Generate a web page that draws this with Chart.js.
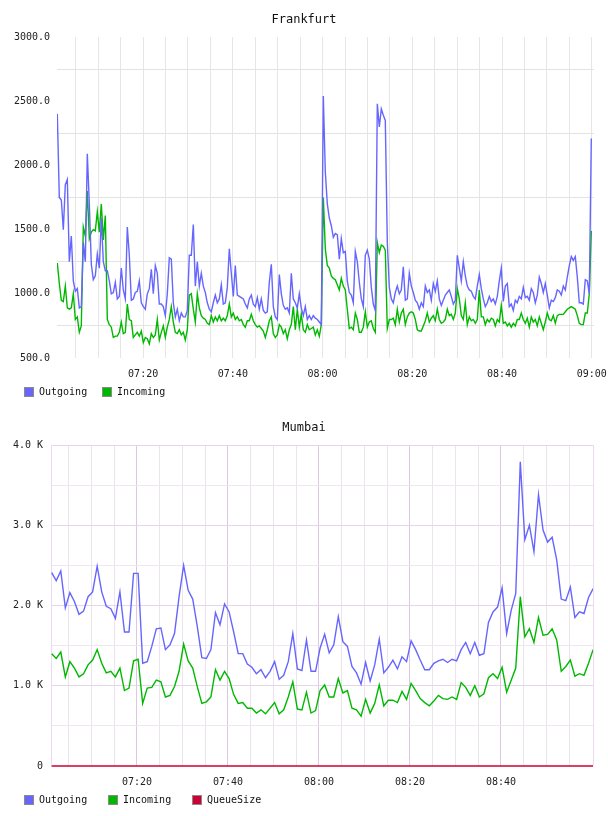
<!DOCTYPE html>
<html>
<head>
<meta charset="utf-8">
<title>Frankfurt / Mumbai</title>
<script src="https://cdn.jsdelivr.net/npm/chart.js@4.4.1/dist/chart.umd.min.js"></script>
<style>
  html, body { margin: 0; padding: 0; background: #fff; }
  .panel { width: 608px; height: 408px; position: relative; }
  canvas { display: block; }
</style>
</head>
<body>
<div class="panel"><canvas id="frankfurt" width="608" height="408"></canvas></div>
<div class="panel"><canvas id="mumbai" width="608" height="408"></canvas></div>
<script>
// --- Data (time in minutes after midnight) ---
const frankStart = 420.87;   // ~07:01
const frankStep = 0.4458;    // ~27 s between samples
const frankOut = [
  2400,1750,1730,1500,1850,1890,1250,1450,1100,1020,1040,890,900,1400,1250,2090,1700,1230,1110,1140,
  1310,1200,1590,1250,1180,1180,1100,1000,1010,1090,960,980,1200,1030,960,1520,1300,950,960,1010,
  1020,1100,930,900,880,1000,1040,1190,1000,1220,1160,920,920,900,830,1000,1280,1270,930,820,
  880,790,850,820,820,870,1300,
  1300,1540,1060,1250,1060,1160,1060,1010,930,880,860,930,990,930,960,1070,920,930,1050,1350,
  1160,980,1220,990,980,970,960,920,890,960,990,920,900,970,880,960,870,850,860,1090,
  1230,900,820,800,1150,1000,910,880,890,850,1160,960,930,890,1000,890,830,900,800,830,
  800,830,810,800,780,760,2540,
  1950,1700,1590,1530,1440,1470,1460,1270,1430,1320,1330,1100,1010,990,930,1330,1250,1090,960,900,
  1300,1340,1270,1050,920,870,2480,2300,2440,2390,2350,1400,1050,960,930,1010,1060,1000,1030,1210,
  950,960,1160,1060,1010,950,930,880,930,900,1060,1010,1030,950,1080,1020,1100,960,910,950,
  990,1010,1030,980,920,950,1300,
  1200,1100,1250,1140,1060,1030,1020,980,960,1060,1150,1040,960,900,930,980,940,960,920,980,
  1100,1200,940,1060,1080,900,920,870,950,930,980,960,1050,970,980,950,1040,1010,930,990,
  1130,1080,1010,1080,990,890,950,940,970,1030,1020,990,1060,1030,1130,1220,1290,1260,1290,1130,
  930,930,920,1110,1100,1000,2210
];
const frankIn = [
  1240,1080,950,940,1060,890,880,890,1000,800,820,700,750,1520,1450,1800,1430,1480,1500,1490,
  1640,1480,1700,1420,1610,800,760,740,660,670,670,700,780,690,700,920,800,790,660,680,
  700,670,710,620,660,650,610,690,660,680,800,640,700,750,660,740,800,900,780,700,
  690,720,680,700,640,720,990,
  1000,880,780,1000,890,830,810,800,770,760,830,780,820,790,830,790,810,790,830,920,
  820,850,800,820,790,800,760,740,790,790,840,790,760,740,750,730,710,660,720,790,
  820,690,660,680,760,740,690,720,650,720,760,900,720,880,740,840,720,700,760,720,
  730,740,680,720,670,760,1750,
  1350,1220,1200,1140,1120,1110,1070,1030,1120,1060,1030,880,730,740,720,850,800,700,700,740,
  860,740,780,790,730,700,1400,1320,1380,1370,1340,730,800,800,810,760,880,780,850,880,
  760,820,850,860,850,800,720,710,710,750,790,850,780,810,830,790,880,800,770,780,
  800,880,830,840,800,850,1040,
  960,830,800,930,760,820,790,800,770,800,1030,820,820,760,800,780,810,800,750,800,
  780,910,770,780,750,770,740,770,750,800,800,850,800,770,810,740,820,780,800,750,
  820,770,720,780,850,800,790,830,770,830,840,840,840,860,880,890,900,890,880,830,
  770,760,760,850,850,1000,1490
];

const mumbaiStart = 421.25;  // ~07:01, one sample per minute
const mumbaiStep = 1;
const mumbaiOut = [  // in K
  2.41,2.31,2.43,1.97,2.16,2.05,1.89,1.93,2.11,2.17, 2.49,2.17,1.99,1.96,1.84,2.17,1.67,1.67,2.40,2.40,
  1.28,1.30,1.49,1.71,1.72,1.45,1.51,1.65,2.11,2.50, 2.19,2.08,1.74,1.35,1.34,1.45,1.91,1.76,2.02,1.92,
  1.67,1.40,1.40,1.27,1.23,1.15,1.20,1.10,1.18,1.30, 1.08,1.13,1.30,1.65,1.21,1.19,1.57,1.18,1.18,1.47,
  1.64,1.41,1.51,1.86,1.55,1.49,1.24,1.16,1.02,1.29, 1.06,1.26,1.58,1.16,1.23,1.32,1.21,1.36,1.30,1.56,
  1.45,1.32,1.20,1.20,1.28,1.31,1.33,1.29,1.33,1.31, 1.45,1.54,1.40,1.54,1.38,1.40,1.79,1.92,1.98,2.22,
  1.65,1.94,2.15,3.79,2.82,3.00,2.67,3.38,2.94,2.79, 2.85,2.57,2.08,2.06,2.23,1.85,1.92,1.90,2.10,2.21
];
const mumbaiIn = [
  1.40,1.34,1.42,1.11,1.30,1.22,1.11,1.15,1.26,1.32, 1.45,1.28,1.16,1.18,1.11,1.22,0.94,0.97,1.31,1.33,
  0.78,0.97,0.98,1.07,1.05,0.86,0.88,0.99,1.18,1.52, 1.31,1.22,0.99,0.78,0.80,0.86,1.20,1.07,1.18,1.09,
  0.89,0.78,0.79,0.72,0.72,0.66,0.70,0.65,0.72,0.79, 0.65,0.70,0.86,1.05,0.71,0.70,0.92,0.66,0.69,0.94,
  1.01,0.86,0.86,1.09,0.91,0.94,0.72,0.70,0.62,0.83, 0.66,0.78,1.01,0.75,0.82,0.82,0.79,0.93,0.83,1.03,
  0.94,0.84,0.79,0.75,0.81,0.88,0.84,0.83,0.86,0.83, 1.04,0.98,0.88,1.00,0.86,0.90,1.10,1.15,1.09,1.23,
  0.92,1.07,1.22,2.11,1.61,1.71,1.54,1.85,1.63,1.64, 1.71,1.57,1.18,1.24,1.32,1.12,1.15,1.13,1.28,1.45
];
const mumbaiQueue = [
  0,0,0,0,0,0,0,0,0,0, 0,0,0,0,0,0,0,0,0,0, 0,0,0,0,0,0,0,0,0,0,
  0,0,0,0,0,0,0,0,0,0, 0,0,0,0,0,0,0,0,0,0, 0,0,0,0,0,0,0,0,0,0,
  0,0,0,0,0,0,0,0,0,0, 0,0,0,0,0,0,0,0,0,0, 0,0,0,0,0,0,0,0,0,0,
  0,0,0,0,0,0,0,0,0,0, 0,0,0,0,0,0,0,0,0,0, 0,0,0,0,0,0,0,0,0,0
];

// x ticks every 5 minutes, labels every 20
const frankTicks = [425,430,435,440,445,450,455,460,465,470,475,480,485,490,495,500,505,510,515,520,525,530,535,540];
const mumbaiTicks = [425,430,435,440,445,450,455,460,465,470,475,480,485,490,495,500,505,510,515,520,525,530,535];

const OUT_COLOR = '#6666ff';
const IN_COLOR = '#00b800';
const QUEUE_COLOR = '#cc0033';
const tickFont = { family: '"DejaVu Sans Mono", monospace', size: 10 };

const hhmm = m => String(Math.floor(m / 60)).padStart(2, '0') + ':' + String(Math.round(m % 60)).padStart(2, '0');
const toPoints = (vals, start, step) => vals.map((v, i) => ({ x: start + i * step, y: v }));

// keep the plot area where it is, even if an edge label sticks out a bit
const fixX = s => { s.height = 50; s.paddingLeft = 0; s.paddingRight = 0; };

// --- Title, legend and frame drawn on the canvas ---
const overlay = {
    id: 'overlay',
    afterDraw(chart, args, opts) {
        const ctx = chart.ctx;
        ctx.save();
        ctx.fillStyle = '#111';
        ctx.font = '12px "DejaVu Sans Mono", monospace';
        ctx.textAlign = 'center';
        ctx.textBaseline = 'middle';
        ctx.fillText(opts.title, 304, 20);

        if (opts.frame) {
            const a = chart.chartArea;
            ctx.strokeStyle = opts.frame;
            ctx.lineWidth = 1;
            ctx.beginPath();
            ctx.moveTo(a.right - 0.5, a.top);
            ctx.lineTo(a.right - 0.5, a.bottom);
            ctx.stroke();
        }

        ctx.font = '10px "DejaVu Sans Mono", monospace';
        ctx.textAlign = 'left';
        chart.data.datasets.forEach((ds, i) => {
            const x = opts.legendX[i];
            ctx.fillStyle = ds.borderColor;
            ctx.fillRect(x, 387, 10, 10);
            ctx.strokeStyle = '#8a8a8a';
            ctx.strokeRect(x + 0.5, 387.5, 9, 9);
            ctx.fillStyle = '#111';
            ctx.fillText(ds.label, x + 15, 392.5);
        });
        ctx.restore();
    }
};

function lineSet(label, color, pts) {
    return { label, data: pts, borderColor: color, backgroundColor: color,
             borderWidth: 1.4, pointRadius: 0, tension: 0, fill: false };
}

// --- Frankfurt ---
new Chart(document.getElementById('frankfurt'), {
    type: 'line',
    data: {
        datasets: [
            lineSet('Outgoing', OUT_COLOR, toPoints(frankOut, frankStart, frankStep)),
            lineSet('Incoming', IN_COLOR, toPoints(frankIn, frankStart, frankStep))
        ]
    },
    options: {
        responsive: false, animation: false, devicePixelRatio: 1,
        layout: { padding: { top: 37, right: 14, bottom: 0, left: 0 } },
        plugins: {
            legend: { display: false }, title: { display: false }, tooltip: { enabled: false },
            overlay: { title: 'Frankfurt', legendX: [24, 102] }
        },
        scales: {
            x: {
                type: 'linear', min: 420.8, max: 540.5,
                afterBuildTicks: s => { s.ticks = frankTicks.map(v => ({ value: v })); },
                afterFit: fixX,
                ticks: { autoSkip: false, maxRotation: 0, padding: 10, font: tickFont, color: '#222',
                         callback: v => v % 20 === 0 ? hhmm(v) : '' },
                grid: { color: '#e6e6e6', drawTicks: false },
                border: { display: false }
            },
            y: {
                min: 500, max: 3000,
                afterFit: s => { s.width = 57; },
                ticks: { stepSize: 250, padding: 7, font: tickFont, color: '#222',
                         callback: v => v % 500 === 0 ? v.toFixed(1) : '' },
                grid: { drawTicks: false, color: c => c.tick && c.tick.value % 500 === 0 ? 'rgba(0,0,0,0)' : '#e3e3e3' },
                border: { display: false }
            }
        }
    },
    plugins: [overlay]
});

// --- Mumbai ---
const isWhole = v => Math.abs(v - Math.round(v)) < 1e-6;
const queueSet = lineSet('QueueSize', QUEUE_COLOR, toPoints(mumbaiQueue, mumbaiStart, mumbaiStep));
queueSet.borderWidth = 1.6;
queueSet.clip = 4;
queueSet.order = -1;   // keep the zero line on top of the bottom grid
new Chart(document.getElementById('mumbai'), {
    type: 'line',
    data: {
        datasets: [
            lineSet('Outgoing', OUT_COLOR, toPoints(mumbaiOut, mumbaiStart, mumbaiStep)),
            lineSet('Incoming', IN_COLOR, toPoints(mumbaiIn, mumbaiStart, mumbaiStep)),
            queueSet
        ]
    },
    options: {
        responsive: false, animation: false, devicePixelRatio: 1,
        layout: { padding: { top: 37, right: 14, bottom: 0, left: 0 } },
        plugins: {
            legend: { display: false }, title: { display: false }, tooltip: { enabled: false },
            overlay: { title: 'Mumbai', legendX: [24, 108, 192], frame: '#eadbee' }
        },
        scales: {
            x: {
                type: 'linear', min: 421.1, max: 540.45,
                afterBuildTicks: s => { s.ticks = mumbaiTicks.map(v => ({ value: v })); },
                afterFit: fixX,
                ticks: { autoSkip: false, maxRotation: 0, padding: 10, font: tickFont, color: '#222',
                         callback: v => v % 20 === 0 ? hhmm(v) : '' },
                grid: { drawTicks: false, color: c => c.tick && c.tick.value % 20 === 0 ? '#dcc8e2' : '#ece3ef' },
                border: { display: false }
            },
            y: {
                min: 0, max: 4,
                afterFit: s => { s.width = 51; },
                ticks: { stepSize: 0.5, padding: 8, font: tickFont, color: '#222',
                         callback: v => v === 0 ? '0' : (isWhole(v) ? v.toFixed(1) + ' K' : '') },
                grid: { drawTicks: false, color: c => c.tick && isWhole(c.tick.value) && c.tick.value > 0 ? '#e6d6ea' : (c.tick && c.tick.value === 0 ? 'rgba(0,0,0,0)' : '#efe6f1') },
                border: { display: true, color: '#eadbee' }
            }
        }
    },
    plugins: [overlay]
});
</script>
</body>
</html>
